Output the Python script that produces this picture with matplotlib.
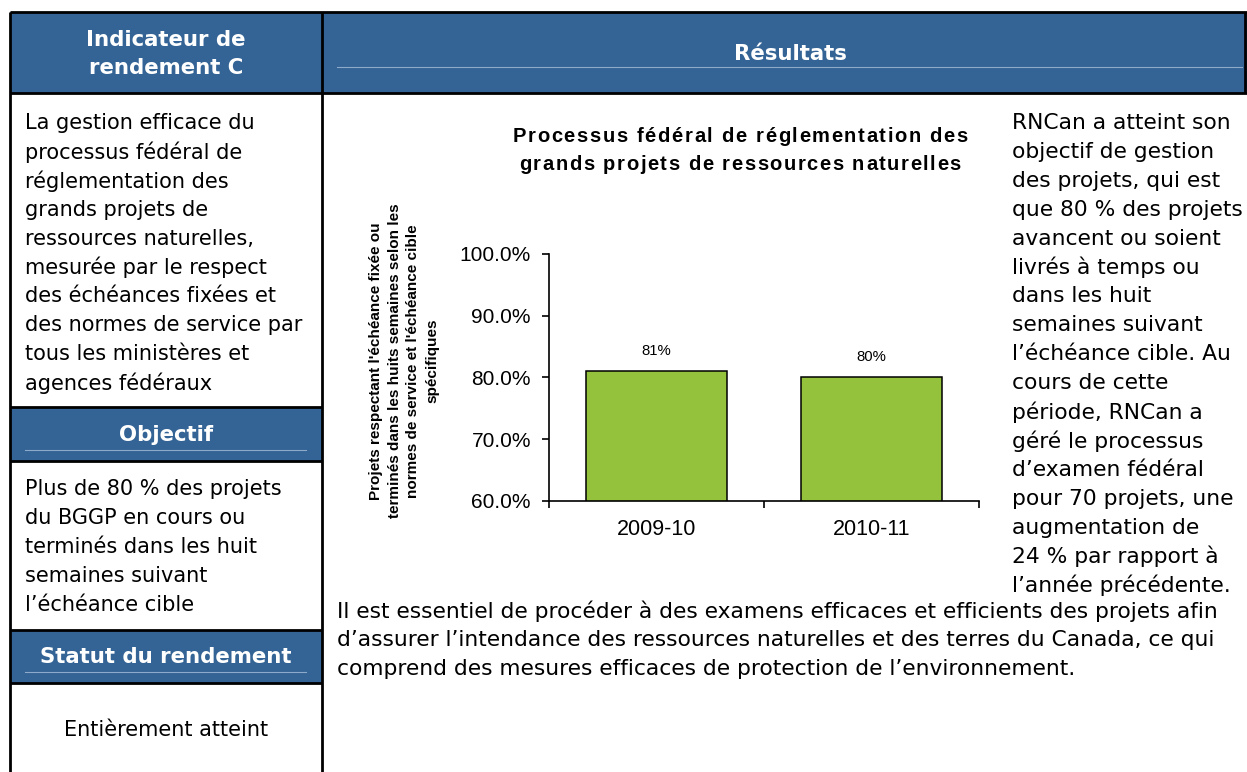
import matplotlib
matplotlib.use("Agg")
import matplotlib.pyplot as plt
from matplotlib.patches import Rectangle

# données du graphique
annees = ["2009-10", "2010-11"]
pourcentages = [81, 80]
etiquettes = ["81%", "80%"]
y_ticks = [60, 70, 80, 90, 100]

titre = ["Processus fédéral de réglementation des",
         "grands projets de ressources naturelles"]
y_titre = ("Projets respectant l'échéance fixée ou\n"
           "terminés dans les huits semaines selon les\n"
           "normes de service et l'échéance cible\n"
           "spécifiques")

# textes du tableau
indicateur = ["La gestion efficace du", "processus fédéral de", "réglementation des",
              "grands projets de", "ressources naturelles,", "mesurée par le respect",
              "des échéances fixées et", "des normes de service par",
              "tous les ministères et", "agences fédéraux"]
objectif = ["Plus de 80 % des projets", "du BGGP en cours ou", "terminés dans les huit",
            "semaines suivant", "l’échéance cible"]
resultats = ["RNCan a atteint son", "objectif de gestion", "des projets, qui est",
             "que 80 % des projets", "avancent ou soient", "livrés à temps ou",
             "dans les huit", "semaines suivant", "l’échéance cible. Au",
             "cours de cette", "période, RNCan a", "géré le processus",
             "d’examen fédéral", "pour 70 projets, une", "augmentation de",
             "24 % par rapport à", "l’année précédente."]
conclusion = ["Il est essentiel de procéder à des examens efficaces et efficients des projets afin",
              "d’assurer l’intendance des ressources naturelles et des terres du Canada, ce qui",
              "comprend des mesures efficaces de protection de l’environnement."]

bleu = "#346495"
vert = "#94c23c"
W, H = 1247, 772

fig = plt.figure(figsize=(W / 100, H / 100), dpi=100)
rend = fig.canvas.get_renderer()

# fond en coordonnées pixels pour le tableau
bg = fig.add_axes([0, 0, 1, 1])
bg.set_xlim(0, W)
bg.set_ylim(H, 0)
bg.axis("off")

# en-têtes bleus
for x0, y0, w, h in [(10, 12, 312, 81), (322, 12, 925, 81),
                     (10, 407, 312, 54), (10, 630, 312, 53)]:
    bg.add_patch(Rectangle((x0, y0), w, h, facecolor=bleu, edgecolor="none"))

# filets clairs dans les en-têtes
bg.plot([337, 1242], [67, 67], color="#8eaacb", lw=0.8)
bg.plot([25, 306], [450, 450], color="#8eaacb", lw=0.8)
bg.plot([25, 306], [672, 672], color="#8eaacb", lw=0.8)

# bordures noires
noir = dict(color="black", lw=2, solid_capstyle="butt")
bg.plot([10, 1247], [12, 12], **noir)
bg.plot([10, 10], [12, 772], **noir)
bg.plot([322, 322], [12, 772], **noir)
bg.plot([1245, 1245], [12, 93], **noir)
bg.plot([10, 1247], [93, 93], **noir)
for yy in [407, 461, 630, 683]:
    bg.plot([10, 322], [yy, yy], **noir)

entete = dict(color="white", fontweight="bold", fontsize=15.3, ha="center",
              va="center", family="DejaVu Sans")
bg.text(166, 40, "Indicateur de", **entete)
bg.text(166, 68, "rendement C", **entete)
bg.text(790, 54, "Résultats", **entete)
bg.text(166, 435, "Objectif", **entete)
bg.text(166, 657, "Statut du rendement", **entete)

gauche = dict(color="black", fontsize=15, va="center", family="DejaVu Sans")
droite = dict(color="black", fontsize=15.7, va="center", family="DejaVu Sans")
pas = 28.9


def lignes(x, y0, rows, **kw):
    for i, r in enumerate(rows):
        bg.text(x, y0 + i * pas, r, **kw)


lignes(25, 123, indicateur, **gauche)
lignes(25, 489, objectif, **gauche)
bg.text(166, 730, "Entièrement atteint", ha="center", color="black", fontsize=15,
        va="center", family="DejaVu Sans")
lignes(1012, 123, resultats, **droite)
lignes(337, 611, conclusion, **droite)

# graphique à barres
ax = fig.add_axes([549 / W, 1 - 501 / H, 430 / W, 247 / H])
x = range(len(annees))
ax.bar(x, pourcentages, width=0.66, color=vert, edgecolor="black", linewidth=1.1)
for xi, v, t in zip(x, pourcentages, etiquettes):
    ax.text(xi, v + 3.3, t, ha="center", va="center", fontsize=10.7,
            family="Liberation Sans")
ax.set_xlim(-0.5, 1.5)
ax.set_ylim(60, 100)
ax.set_yticks(y_ticks)
ax.set_yticklabels([f"{t:.1f}%" for t in y_ticks], family="Liberation Sans", fontsize=15)
ax.set_xticks(list(x))
ax.set_xticklabels(annees, family="Liberation Sans", fontsize=15.5)
ax.set_xticks([-0.5, 0.5, 1.5], minor=True)
ax.tick_params(axis="x", which="major", length=0, pad=13)
ax.tick_params(axis="x", which="minor", length=5, width=1.2, direction="out")
ax.tick_params(axis="y", length=5, width=1.2, pad=8)
for s in ["top", "right"]:
    ax.spines[s].set_visible(False)
for s in ["left", "bottom"]:
    ax.spines[s].set_linewidth(1.2)
ax.patch.set_alpha(0)


# titre avec un léger espacement des lettres
def texte_espace(cx, cy, ligne, largeur, **kw):
    def larg(s):
        t = bg.text(0, 0, "|" + s + "|", **kw)
        w = t.get_window_extent(rend).width
        t.remove()
        return w
    w0 = larg("")
    pos = [larg(ligne[:i]) - w0 for i in range(len(ligne) + 1)]
    esp = max(0.0, (largeur - pos[-1]) / (len(ligne) - 1))
    total = pos[-1] + esp * (len(ligne) - 1)
    x0 = cx - total / 2
    for i, c in enumerate(ligne):
        if c != " ":
            bg.text(x0 + pos[i] + esp * i, cy, c, ha="left", va="center", **kw)


texte_espace(740, 136, titre[0], 455, fontsize=14.5, fontweight="bold",
             family="Liberation Sans")
texte_espace(740, 165, titre[1], 442, fontsize=14.5, fontweight="bold",
             family="Liberation Sans")

fig.text(404 / W, 1 - 361 / H, y_titre, ha="center", va="center", rotation=90,
         fontsize=11, fontweight="bold", family="Liberation Sans", linespacing=1.45)

fig.savefig("out.png", dpi=100)
